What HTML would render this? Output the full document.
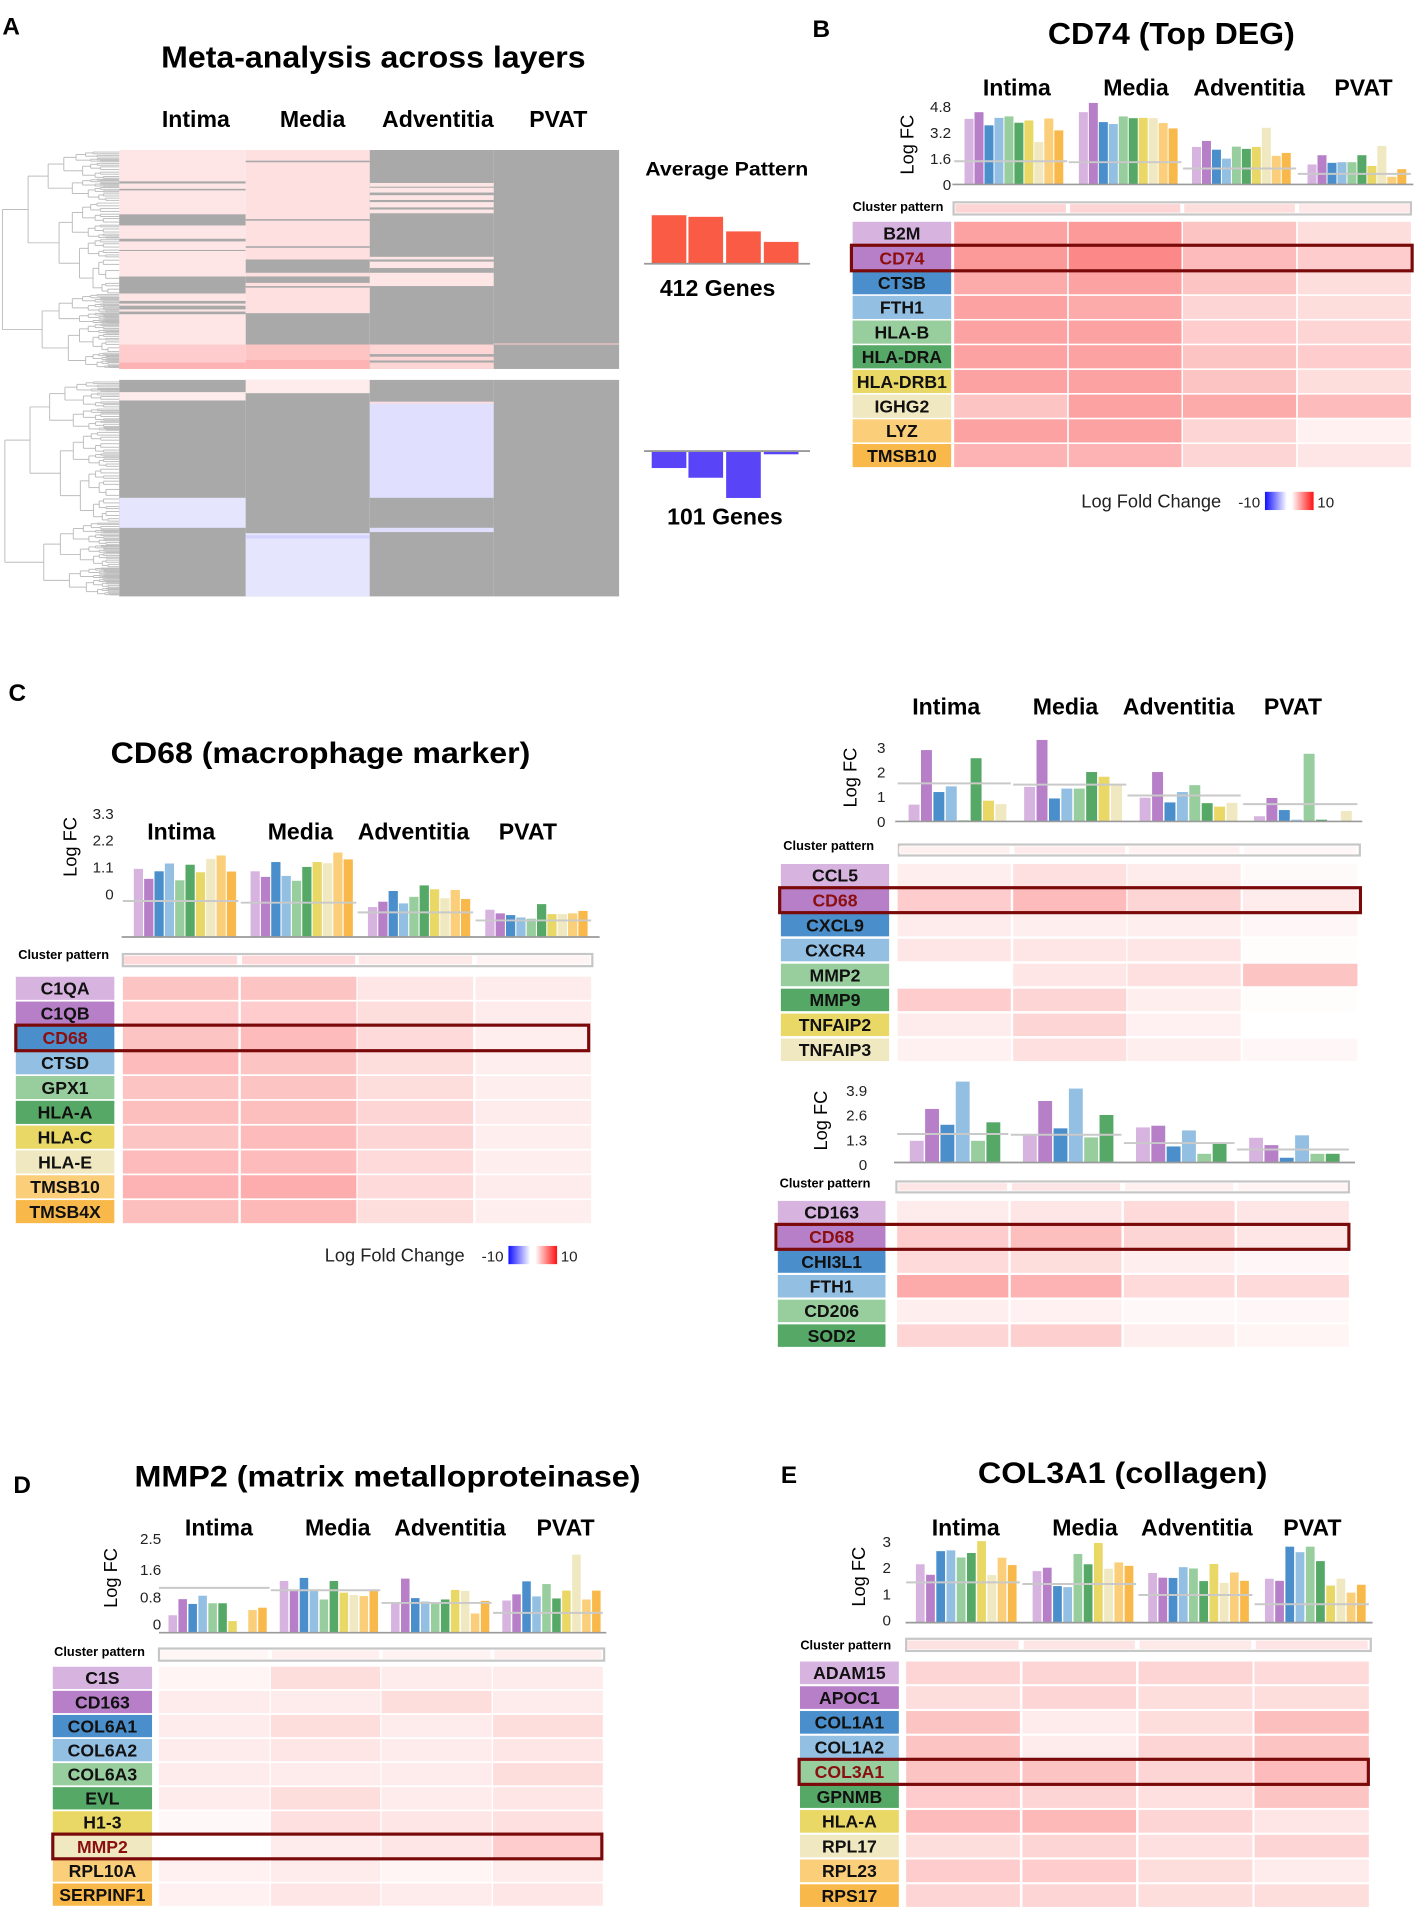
<!DOCTYPE html>
<html><head><meta charset="utf-8"><title>Meta-analysis figure</title>
<style>
html,body{margin:0;padding:0;background:#fff;}
svg{display:block;font-family:"Liberation Sans",Arial,sans-serif;}
</style></head>
<body>
<svg id="fig" xmlns="http://www.w3.org/2000/svg" viewBox="0 0 1165 1568" width="1417" height="1908">
<defs>
<linearGradient id="lfc" x1="0" x2="1" y1="0" y2="0">
<stop offset="0" stop-color="#1010ff"/><stop offset="0.45" stop-color="#ffffff"/><stop offset="0.55" stop-color="#ffffff"/><stop offset="1" stop-color="#ff1010"/>
</linearGradient>
</defs>
<rect x="0" y="0" width="1165" height="1568" fill="#fff"/>
<text x="2" y="28" font-size="20" font-weight="bold">A</text>
<text x="668" y="30" font-size="20" font-weight="bold">B</text>
<text x="7" y="576" font-size="20" font-weight="bold">C</text>
<text x="11" y="1227" font-size="20" font-weight="bold">D</text>
<text x="642" y="1219" font-size="20" font-weight="bold">E</text>
<text x="132.5" y="55" font-size="25" font-weight="bold" textLength="349" lengthAdjust="spacingAndGlyphs">Meta-analysis across layers</text>
<text x="861.5" y="36" font-size="25" font-weight="bold" textLength="203" lengthAdjust="spacingAndGlyphs">CD74 (Top DEG)</text>
<text x="91" y="627" font-size="24" font-weight="bold" textLength="345" lengthAdjust="spacingAndGlyphs">CD68 (macrophage marker)</text>
<text x="110.6" y="1222" font-size="24" font-weight="bold" textLength="416" lengthAdjust="spacingAndGlyphs">MMP2 (matrix metalloproteinase)</text>
<text x="804" y="1219" font-size="24" font-weight="bold" textLength="238" lengthAdjust="spacingAndGlyphs">COL3A1 (collagen)</text>
<text x="597.5" y="144" font-size="16" font-weight="bold" text-anchor="middle" textLength="134" lengthAdjust="spacingAndGlyphs">Average Pattern</text>
<text x="590" y="243" font-size="19" font-weight="bold" text-anchor="middle">412 Genes</text>
<text x="596" y="431" font-size="19" font-weight="bold" text-anchor="middle">101 Genes</text>
</svg>
<script>
// ---------------- DATA ----------------
const layers = ['Intima','Media','Adventitia','PVAT'];

// Panel A average pattern
const avgUp = [3.0, 2.9, 2.0, 1.35];
const avgDown = [-1.05, -1.65, -2.9, -0.2];

// Panel A meta heatmap segments: [startGene, endGene, value] (value null = not significant / gray)
const aUpIntima = [[0,366,0.15],[59,63,null],[73,76,null],[121,142,null],[167,172,null],[188,190,null],[238,270,null],[284,289,null],[293,300,null],[304,309,null],[366,412,0.3],[400,412,0.45]];
const aUpMedia = [[0,307,0.18],[20,23,null],[130,133,null],[181,184,null],[206,231,null],[238,250,null],[256,259,null],[307,366,null],[366,412,0.35],[395,412,0.45]];
const aUpAdv = [[0,412,null],[62,119,0.15],[69,71,null],[80,85,null],[94,98,null],[108,112,null],[201,256,0.15],[206,210,null],[222,231,null],[366,412,0.25],[384,389,null],[396,400,null]];
const aUpPvat = [[0,412,null],[364,366,0.3]];
const aDnIntima = [[0,101,null],[5.7,9.6,0.12],[55,69,-0.15]];
const aDnMedia = [[0,101,null],[0,6.2,0.12],[71.5,101,-0.15],[72.5,74,-0.25]];
const aDnAdv = [[0,101,null],[10.2,55,-0.18],[10.2,11,0.2],[69,71,-0.18]];
const aDnPvat = [[0,101,null]];

// Panel B
const bGenes = ['B2M','CD74','CTSB','FTH1','HLA-B','HLA-DRA','HLA-DRB1','IGHG2','LYZ','TMSB10'];
const bIntima = [4.04,4.45,3.64,4.10,4.19,3.80,3.94,2.61,4.06,3.33];
const bMedia = [4.45,5.02,3.84,3.72,4.19,4.08,4.10,4.08,3.78,3.45];
const bAdventitia = [2.31,2.68,2.14,1.59,2.33,2.19,2.31,3.49,1.76,1.94];
const bPvat = [1.23,1.80,1.33,1.37,1.37,1.80,1.14,2.37,0.47,0.94];
const bMeans = [1.43,1.37,0.98,0.65];
const bTicks = [0,1.6,3.2,4.8];
const bTickLabels = ['0','1.6','3.2','4.8'];
const bHeat = [[.55,.6,.35,.2],[.6,.7,.4,.3],[.5,.55,.35,.2],[.55,.5,.25,.2],[.55,.55,.3,.25],[.55,.55,.35,.3],[.55,.55,.35,.2],[.35,.55,.5,.4],[.55,.55,.25,.08],[.45,.45,.25,.15]];

// Panel C (left)
const cGenes = ['C1QA','C1QB','CD68','CTSD','GPX1','HLA-A','HLA-C','HLA-E','TMSB10','TMSB4X'];
const cIntima = [2.80,2.39,2.70,3.02,2.33,2.97,2.66,3.21,3.35,2.69];
const cMedia = [2.70,2.47,3.08,2.51,2.31,2.88,3.08,3.03,3.47,3.19];
const cAdventitia = [1.23,1.45,1.89,1.38,1.65,2.12,1.96,1.59,1.93,1.56];
const cPvat = [1.12,0.97,0.90,0.80,0.75,1.35,0.94,0.94,0.97,1.07];
const cMeans = [1.48,1.41,1.01,0.68];
const cTicks = [0,1.1,2.2,3.3];
const cTickLabels = ['0','1.1','2.2','3.3'];
const cHeat = [[.35,.35,.15,.12],[.3,.3,.2,.12],[.35,.4,.22,.1],[.4,.35,.2,.1],[.35,.35,.2,.1],[.38,.38,.25,.12],[.35,.4,.25,.1],[.4,.4,.22,.1],[.45,.48,.22,.12],[.38,.42,.2,.1]];

// Panel C (right, top)
const c2Genes = ['CCL5','CD68','CXCL9','CXCR4','MMP2','MMP9','TNFAIP2','TNFAIP3'];
const c2Intima = [0.68,2.89,1.19,1.42,0.05,2.56,0.84,0.70];
const c2Media = [1.40,3.30,0.93,1.33,1.33,2.00,1.81,1.49];
const c2Adventitia = [0.96,2.00,0.77,1.19,1.47,0.74,0.60,0.75];
const c2Pvat = [0.21,0.95,0.46,0.07,2.74,0.07,0,0.42];
const c2Means = [1.54,1.49,1.05,0.70];
const c2Ticks = [0,1,2,3];
const c2TickLabels = ['0','1','2','3'];
const c2Heat = [[.1,.18,.12,.03],[.3,.4,.25,.12],[.12,.1,.1,.05],[.15,.15,.15,.02],[0,.15,.18,.35],[.3,.25,.1,.02],[.12,.25,.08,0],[.08,.18,.1,.05]];

// Panel C (right, bottom)
const c3Genes = ['CD163','CD68','CHI3L1','FTH1','CD206','SOD2'];
const c3Intima = [1.15,2.84,2.00,4.29,1.15,2.13];
const c3Media = [1.47,3.26,1.81,3.92,1.33,2.52];
const c3Adventitia = [1.86,1.95,0.85,1.70,0.46,0.99];
const c3Pvat = [1.31,0.92,0.25,1.44,0.46,0.46];
const c3Means = [1.51,1.47,1.03,0.69];
const c3Ticks = [0,1.3,2.6,3.9];
const c3TickLabels = ['0','1.3','2.6','3.9'];
const c3Heat = [[.12,.15,.22,.15],[.3,.38,.25,.15],[.22,.2,.1,.05],[.5,.45,.22,.22],[.1,.08,.04,.05],[.25,.28,.1,.06]];

// Panel D
const dGenes = ['C1S','CD163','COL6A1','COL6A2','COL6A3','EVL','H1-3','MMP2','RPL10A','SERPINF1'];
const dIntima = [0.51,0.98,0.84,1.08,0.86,0.86,0.34,0.01,0.66,0.73];
const dMedia = [1.51,1.23,1.60,1.23,0.97,1.51,1.17,1.10,1.07,1.23];
const dAdventitia = [0.87,1.58,1.01,0.91,0.85,0.97,1.25,1.22,0.56,0.93];
const dPvat = [0.94,1.12,1.50,1.06,1.42,1.00,1.23,2.28,0.97,1.23];
const dMeans = [1.31,1.24,0.87,0.58];
const dTicks = [0,0.8,1.6,2.5];
const dTickLabels = ['0','0.8','1.6','2.5'];
const dHeat = [[.06,.2,.12,.12],[.12,.12,.2,.12],[.12,.2,.12,.2],[.12,.15,.12,.15],[.12,.12,.12,.2],[.12,.2,.12,.15],[.04,.18,.15,.18],[0,.12,.15,.3],[.08,.12,.06,.12],[.08,.15,.12,.15]];

// Panel E
const eGenes = ['ADAM15','APOC1','COL1A1','COL1A2','COL3A1','GPNMB','HLA-A','RPL17','RPL23','RPS17'];
const eIntima = [2.22,1.82,2.72,2.75,2.48,2.65,3.10,1.81,2.47,2.19];
const eMedia = [1.96,2.09,1.39,1.35,2.61,2.22,3.03,2.05,2.29,2.16];
const eAdventitia = [1.89,1.71,1.70,2.11,2.06,1.58,2.23,1.51,1.91,1.59];
const ePvat = [1.67,1.59,2.89,2.68,2.89,2.34,1.41,1.67,1.14,1.44];
const eMeans = [1.53,1.47,1.05,0.70];
const eTicks = [0,1,2,3];
const eTickLabels = ['0','1','2','3'];
const eHeat = [[.25,.25,.25,.22],[.2,.25,.2,.2],[.35,.12,.2,.38],[.35,.12,.25,.35],[.35,.35,.25,.4],[.3,.25,.18,.35],[.4,.42,.25,.15],[.2,.25,.18,.25],[.3,.3,.2,.12],[.25,.25,.2,.2]];

// ---------------- RENDER ----------------
const palette = ['#d7b3e0','#b77fc8','#4a8fcb','#93bfe3','#98cd9e','#55a865','#e9d866','#efe8c0','#fbcf7a','#f9b94a'];
const NS = 'http://www.w3.org/2000/svg';
const svg = document.getElementById('fig');
function mk(tag, attrs, parent){
  const e = document.createElementNS(NS, tag);
  for (const k in attrs) e.setAttribute(k, attrs[k]);
  (parent || svg).appendChild(e);
  return e;
}
function heatColor(v){
  if (v === null) return '#a9a9a9';
  if (v >= 0){
    const r = Math.round(255 + (250-255)*v), g = Math.round(255 + (85-255)*v), b = Math.round(255 + (85-255)*v);
    return 'rgb(' + r + ',' + g + ',' + b + ')';
  }
  const t = -v;
  const r = Math.round(255 + (80-255)*t), g = Math.round(255 + (80-255)*t), b = Math.round(255 + (250-255)*t);
  return 'rgb(' + r + ',' + g + ',' + b + ')';
}

// ----- Panel A -----
const aCols = [[98,202],[202,304],[304,406],[406,509]];
const aColLabelX = [161,257,360,459];
const aGroup = mk('g', {});


layers.forEach((name, i) => {
  const t = mk('text', {x: aColLabelX[i], y: 104, 'font-size': 19, 'font-weight': 'bold', 'text-anchor': 'middle'}, aGroup);
  t.textContent = name;
  
  
});
function drawBlock(cols, y0, y1, nGenes, blockName){
  cols.forEach((segs, ci) => {
    segs.forEach((s, si) => {
      const ya = y0 + s[0]/nGenes*(y1-y0), yb = y0 + s[1]/nGenes*(y1-y0);
      const r = mk('rect', {x: aCols[ci][0], y: ya, width: aCols[ci][1]-aCols[ci][0], height: Math.max(0.6, yb-ya), fill: heatColor(s[2])}, aGroup);
      
      
    });
  });
}
drawBlock([aUpIntima, aUpMedia, aUpAdv, aUpPvat], 123, 303, 412, 'up-block');
drawBlock([aDnIntima, aDnMedia, aDnAdv, aDnPvat], 312, 490, 101, 'down-block');

// dendrograms (decorative)
const ratios = [0.5, 0.62, 0.4, 0.55, 0.35, 0.66, 0.48];
function dendro(y0, y1, x, depth, g){
  if (depth === 0){
    const m = (y0+y1)/2;
    const l = mk('line', {x1: x, x2: 98, y1: m, y2: m, stroke: '#bdbdbd', 'stroke-width': 0.8}, g);
    
    
    return m;
  }
  const split = y0 + (y1-y0)*ratios[(depth + Math.round(y0)) % ratios.length];
  const x1 = x + (98-x)*0.22, x2 = x + (98-x)*0.34;
  const m1 = dendro(y0, split, x1, depth-1, g);
  const m2 = dendro(split, y1, x2, depth-1, g);
  const v = mk('line', {x1: x, x2: x, y1: m1, y2: m2, stroke: '#bdbdbd', 'stroke-width': 0.8}, g);
  
  
  const h1 = mk('line', {x1: x, x2: x1, y1: m1, y2: m1, stroke: '#bdbdbd', 'stroke-width': 0.8}, g);
  
  
  const h2 = mk('line', {x1: x, x2: x2, y1: m2, y2: m2, stroke: '#bdbdbd', 'stroke-width': 0.8}, g);
  
  
  return (m1+m2)/2;
}
const dg = mk('g', {});


dendro(124, 302, 2, 7, dg);
dendro(313, 489, 4, 7, dg);

// average pattern
const avgX = [535.8, 566, 597, 628];
const avgW = 28.5, avgUnit = 13.3;
const ag = mk('g', {});


avgUp.forEach((v, i) => {
  const r = mk('rect', {x: avgX[i], y: 216.5 - v*avgUnit, width: avgW, height: v*avgUnit, fill: '#f95b45'}, ag);
  
  
});
avgDown.forEach((v, i) => {
  const r = mk('rect', {x: avgX[i], y: 370.5, width: avgW, height: -v*avgUnit, fill: '#5a44f8'}, ag);
  
  
});
const al1 = mk('line', {x1: 529.5, x2: 666, y1: 216.5, y2: 216.5, stroke: '#999', 'stroke-width': 1.5}, ag);


const al2 = mk('line', {x1: 529.5, x2: 666, y1: 370.5, y2: 370.5, stroke: '#999', 'stroke-width': 1.5}, ag);



// ----- Generic gene panels -----
function drawPanel(pid, genes, series, means, ticks, tickLabels, heat, L){
  const g = mk('g', {});
  
  
  if (L.colLabelY){
    layers.forEach((name, i) => {
      const t = mk('text', {x: L.colLabelX[i], y: L.colLabelY, 'font-size': 19, 'font-weight': 'bold', 'text-anchor': 'middle'}, g);
      t.textContent = name;
      
      
    });
  }
  const yOf = v => L.base - v*L.unit;
  ticks.forEach((v, i) => {
    const t = mk('text', {x: L.tickX, y: yOf(v) - L.tickOff + 4.5, 'font-size': 12.5, 'text-anchor': 'end', fill: '#222'}, g);
    t.textContent = tickLabels[i];
    
    
  });
  const yl = mk('text', {x: L.logfc[0], y: L.logfc[1], 'font-size': 15, 'text-anchor': 'middle', transform: 'rotate(-90 ' + L.logfc[0] + ' ' + L.logfc[1] + ')'}, g);
  yl.textContent = 'Log FC';
  
  
  series.forEach((vals, gi) => {
    vals.forEach((v, i) => {
      const r = mk('rect', {x: L.groupX[gi] + i*L.step, y: yOf(v), width: L.barW, height: v*L.unit, fill: palette[i]}, g);
      
      
    });
    const ml = mk('line', {x1: L.cols[gi][0], x2: L.cols[gi][1], y1: yOf(means[gi]), y2: yOf(means[gi]), stroke: '#c9c9c9', 'stroke-width': 1.6}, g);
    
    
  });
  const ax = mk('line', {x1: L.axX[0], x2: L.axX[1], y1: L.base, y2: L.base, stroke: '#9a9a9a', 'stroke-width': 1.4}, g);
  
  
  const ct = mk('text', {x: L.clusterText[0], y: L.clusterText[1], 'font-size': 10.5, 'font-weight': 'bold'}, g);
  ct.textContent = 'Cluster pattern';
  
  
  const bx = mk('rect', {x: L.box[0], y: L.box[2], width: L.box[1]-L.box[0], height: L.box[3]-L.box[2], fill: '#fff', stroke: '#c6c6c6', 'stroke-width': 1.8}, g);
  
  
  for (let ci = 0; ci < 4; ci++){
    let s = 0; heat.forEach(row => s += row[ci]);
    const c = mk('rect', {x: L.cols[ci][0] + 1, y: L.box[2] + 1.5, width: L.cols[ci][1]-L.cols[ci][0] - 2, height: L.box[3]-L.box[2] - 3, fill: heatColor(Math.min(0.25, s/heat.length*0.6))}, g);
    
    
  }
  genes.forEach((gene, ri) => {
    const y = L.rowTop + ri*L.rowStep;
    const lb = mk('rect', {x: L.labX[0], y: y, width: L.labX[1]-L.labX[0], height: L.rowH, fill: palette[ri]}, g);
    
    
    const lt = mk('text', {x: (L.labX[0]+L.labX[1])/2, y: y + L.rowH/2 + 5.2, 'font-size': 14.5, 'font-weight': 'bold', 'text-anchor': 'middle', fill: ri === L.hlIdx ? '#8b0f0f' : '#111'}, g);
    lt.textContent = gene;
    
    
    heat[ri].forEach((v, ci) => {
      const hc = mk('rect', {x: L.cols[ci][0], y: y, width: L.cols[ci][1]-L.cols[ci][0], height: L.rowH, fill: heatColor(v)}, g);
      
      
    });
  });
  const hy = L.rowTop + L.hlIdx*L.rowStep;
  const hl = mk('rect', {x: L.hl[0], y: hy - 1, width: L.hl[1]-L.hl[0], height: L.rowH + 2, fill: 'none', stroke: '#7a0a0a', 'stroke-width': 2.6}, g);
  
  
}

function legend(pid, x, y){
  const g = mk('g', {});
  
  
  const t1 = mk('text', {x: x, y: y, 'font-size': 15, fill: '#222'}, g);
  t1.textContent = 'Log Fold Change';
  
  
  const t2 = mk('text', {x: x + 129, y: y, 'font-size': 12.5, fill: '#222'}, g);
  t2.textContent = '-10';
  
  
  const r = mk('rect', {x: x + 151, y: y - 13, width: 40, height: 15, fill: 'url(#lfc)'}, g);
  
  
  const t3 = mk('text', {x: x + 194, y: y, 'font-size': 12.5, fill: '#222'}, g);
  t3.textContent = '10';
  
  
}

drawPanel('panel-b', bGenes, [bIntima, bMedia, bAdventitia, bPvat], bMeans, bTicks, bTickLabels, bHeat, {
  colLabelY: 78, colLabelX: [836,934,1027,1121], axX: [783,1162], base: 151.3, unit: 13.35, tickOff: 0, tickX: 782,
  groupX: [793,887,980,1075], step: 8.2, barW: 7.4, logfc: [751,118.6], clusterText: [701,173], box: [784,1160,166,176],
  cols: [[784.5,877.4],[878.7,971.4],[972.6,1065.6],[1067,1160]], labX: [701,782], rowTop: 182, rowStep: 20.3, rowH: 19, hl: [700,1161], hlIdx: 1});
legend('panel-b', 889, 417);

drawPanel('panel-c-left', cGenes, [cIntima, cMedia, cAdventitia, cPvat], cMeans, cTicks, cTickLabels, cHeat, {
  colLabelY: 690, colLabelX: [149,247,340,434], axX: [100,493], base: 770, unit: 20.0, tickOff: 35.5, tickX: 93.5,
  groupX: [110,206,302.5,399], step: 8.5, barW: 7.6, logfc: [63,696], clusterText: [15,788], box: [101,487,784,794],
  cols: [[101,196],[198,293],[294,389],[391,486]], labX: [13,94], rowTop: 802.7, rowStep: 20.4, rowH: 19, hl: [13,484], hlIdx: 2});
legend('panel-c', 267, 1037);

drawPanel('panel-c-right-top', c2Genes, [c2Intima, c2Media, c2Adventitia, c2Pvat], c2Means, c2Ticks, c2TickLabels, c2Heat, {
  colLabelY: 587, colLabelX: [778,876,969,1063], axX: [736,1120], base: 675, unit: 20.3, tickOff: 0, tickX: 728,
  groupX: [747,842,937,1031], step: 10.2, barW: 9, logfc: [704,639], clusterText: [644,698.5], box: [739,1118,694,703],
  cols: [[738,831],[833,926],[927,1020],[1022,1116]], labX: [642,731], rowTop: 710, rowStep: 20.5, rowH: 18.5, hl: [641,1118.5], hlIdx: 1});

drawPanel('panel-c-right-bottom', c3Genes, [c3Intima, c3Media, c3Adventitia, c3Pvat], c3Means, c3Ticks, c3TickLabels, c3Heat, {
  colLabelY: null, axX: [735,1114], base: 955.4, unit: 15.5, tickOff: -1.5, tickX: 713,
  groupX: [748,841,934,1027], step: 12.6, barW: 11.4, logfc: [680,921], clusterText: [641,976], box: [737,1109,971,980],
  cols: [[737.6,829],[831,922],[924,1015],[1017,1109]], labX: [639.5,728], rowTop: 987, rowStep: 20.3, rowH: 18.5, hl: [638,1109], hlIdx: 1});

drawPanel('panel-d', dGenes, [dIntima, dMedia, dAdventitia, dPvat], dMeans, dTicks, dTickLabels, dHeat, {
  colLabelY: 1262, colLabelX: [180,277.7,370,465], axX: [130.7,498.5], base: 1342, unit: 28.15, tickOff: 7, tickX: 132.5,
  groupX: [138.5,230,321.5,413], step: 8.2, barW: 7, logfc: [96,1297], clusterText: [44.5,1361], box: [130.7,496.7,1355,1365],
  cols: [[130.7,221.6],[222.7,312.6],[313.7,404.2],[405.4,495.6]], labX: [43.4,125], rowTop: 1370, rowStep: 19.8, rowH: 18.3, hl: [43.4,494.8], hlIdx: 7});

drawPanel('panel-e', eGenes, [eIntima, eMedia, eAdventitia, ePvat], eMeans, eTicks, eTickLabels, eHeat, {
  colLabelY: 1262, colLabelX: [794,892,984,1079], axX: [744.5,1128.5], base: 1333.7, unit: 21.6, tickOff: 2, tickX: 732.5,
  groupX: [753,849,944,1040], step: 8.4, barW: 7.2, logfc: [711,1296], clusterText: [658,1356], box: [745,1127,1347,1357],
  cols: [[745,838.5],[840.6,934],[936,1029.7],[1031.4,1125.4]], labX: [657.7,739], rowTop: 1365.7, rowStep: 20.35, rowH: 18.6, hl: [657,1125], hlIdx: 4});
</script>
</body></html>
